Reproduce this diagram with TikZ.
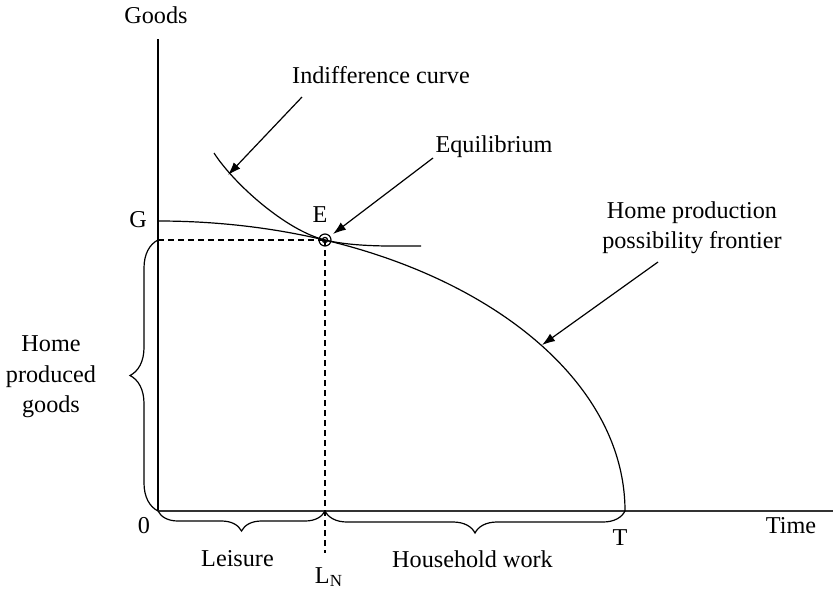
\documentclass[tikz,border=0pt]{standalone}
\usepackage{fontspec}
\setmainfont{Liberation Serif}
\usetikzlibrary{arrows.meta, positioning, decorations.pathreplacing, calc}

\begin{document}
\begin{tikzpicture}[
  x=0.5pt, y=-0.5pt,
  font=\fontsize{12.1}{15.2}\selectfont,
  axis/.style={line width=0.9pt, black!80},
  curve/.style={line width=0.6pt},
  guide/.style={line width=0.8pt, dash pattern=on 3pt off 2pt},
  pointer/.style={line width=0.6pt, -{Latex[length=6.5pt, width=4.5pt]}},
  bracket/.style={line width=0.6pt, decorate, decoration={brace, amplitude=#1}},
  lbl/.style={inner sep=0pt, anchor=base}
]
  \useasboundingbox (0,0) rectangle (835,590);

  % axes
  \coordinate (O) at (158,511);
  \coordinate (yTop) at (158,39);
  \coordinate (xEnd) at (833,511);
  \coordinate (G) at (158,221);
  \coordinate (T) at (625,511);
  \coordinate (E) at (325,240);
  \coordinate (gDash) at (158,240);
  \coordinate (lnFoot) at (325,553);
  \draw[axis, line width=0.6pt, black] (O) -- (yTop);
  \draw[axis] (O) -- (xEnd);

  % frontier and indifference curve
  \draw[curve] (G) arc[start angle=270, end angle=360, x radius=467, y radius=290];
  \draw[curve] (214,153) .. controls (234,184) and (286,230.4) .. (E)
    .. controls (355,247.2) and (395,246) .. (421,246);

  % equilibrium guides
  \draw[guide] (gDash) -- (E);
  \draw[guide] (E) -- (lnFoot);
  \draw[line width=0.6pt] (E) circle[radius=3pt];
  \draw[line width=0.6pt] (E) circle[radius=1.3pt];

  % braces
  \draw[bracket=14pt] (O) -- (gDash);
  \draw[bracket=10pt] (325,511) -- (O);
  \draw[bracket=11pt] (T) -- (325,511);

  % labels
  \node[lbl] (goodsLbl) at (156,23) {Goods};
  \node[lbl] (timeLbl) at (791,533) {Time};
  \node[lbl] (zeroLbl) at (144,533) {0};
  \node[lbl] (tLbl) at (620,545) {T};
  \node[lbl] (gLbl) at (138,227) {G};
  \node[lbl] (eLbl) at (320,222) {E};
  \node[lbl] (leisureLbl) at (237.5,566) {Leisure};
  \node[lbl] (workLbl) at (472.5,567) {Household work};
  \node[lbl] (lnLbl) at (329,583) {L\textsubscript{N}};
  \node[align=center] (hpgLbl) at (51,377) {Home\\produced\\goods};
  \node[lbl] (icLbl) at (381,83) {Indifference curve};
  \node[lbl] (eqLbl) at (494,152) {Equilibrium};
  \node[align=center] (ppfLbl) at (692,228) {Home production\\possibility frontier};

  % pointers
  \coordinate (icTail) at (302,97);
  \coordinate (icHead) at (228,175);
  \coordinate (eqTail) at (433,158);
  \coordinate (eqHead) at (333,234);
  \coordinate (ppfTail) at (658,262);
  \coordinate (ppfHead) at (542,345);
  \draw[pointer] (icTail) -- (icHead);
  \draw[pointer] (eqTail) -- (eqHead);
  \draw[pointer] (ppfTail) -- (ppfHead);
\end{tikzpicture}
\end{document}
